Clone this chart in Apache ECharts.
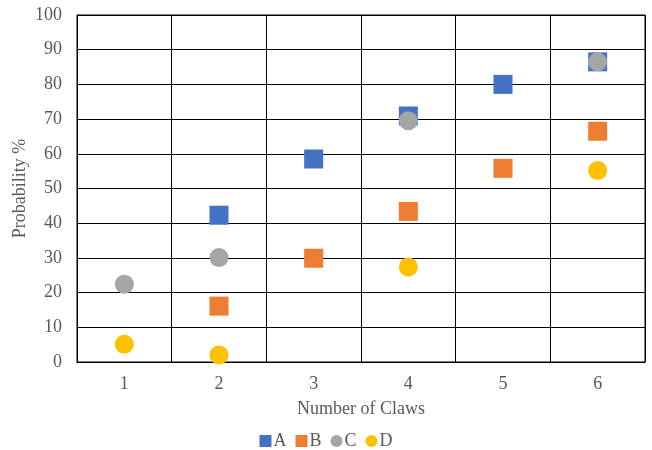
<!DOCTYPE html>
<html>
<head>
<meta charset="utf-8">
<script src="https://cdn.jsdelivr.net/npm/echarts@6/dist/echarts.min.js"></script>
<style>
  html, body { margin: 0; padding: 0; background: #fff; }
  #chart { width: 652px; height: 450px; }
</style>
</head>
<body>
<div id="chart"></div>
<script>
// Number of claws on the horizontal axis
const claws = ['1', '2', '3', '4', '5', '6'];

// Probability (%) per series; null where a series has no point
const seriesA = [null, 42.3, 58.5, 70.9, 80.0, 86.5];
const seriesB = [null, 16.1, 29.9, 43.4, 55.8, 66.5];
const seriesC = [22.4, 30.1, null, 69.5, null, 86.5];
const seriesD = [5.1, 2.0, null, 27.4, null, 55.2];

const yTicks = [0, 10, 20, 30, 40, 50, 60, 70, 80, 90, 100];

const font = 'Liberation Serif, Times New Roman, serif';
const textColor = '#595959';

const chart = echarts.init(document.getElementById('chart'));

function scatter(name, data, symbol, color) {
  return {
    name: name,
    type: 'scatter',
    data: data,
    symbol: symbol,
    symbolSize: 19,
    itemStyle: { color: color, opacity: 1 },
    emphasis: { disabled: true }
  };
}

chart.setOption({
  animation: false,
  grid: {
    left: 77, right: 7, top: 15, bottom: 88,
    show: true, borderColor: '#000', borderWidth: 1
  },
  xAxis: {
    type: 'category',
    data: claws,
    boundaryGap: true,
    name: 'Number of Claws',
    nameLocation: 'middle',
    nameGap: 38,
    nameMoveOverlap: false,
    nameTextStyle: { fontFamily: font, fontSize: 18, color: textColor },
    axisLine: { lineStyle: { color: '#000', width: 1 } },
    axisTick: { show: false },
    axisLabel: { fontFamily: font, fontSize: 18, color: textColor, margin: 13 },
    splitLine: { show: true, lineStyle: { color: '#000', width: 1 } }
  },
  yAxis: {
    type: 'value',
    min: yTicks[0],
    max: yTicks[yTicks.length - 1],
    interval: 10,
    name: 'Probability %',
    nameLocation: 'middle',
    nameGap: 48,
    nameMoveOverlap: false,
    nameTextStyle: { fontFamily: font, fontSize: 18, color: textColor },
    axisLine: { show: true, lineStyle: { color: '#000', width: 1 } },
    axisTick: { show: false },
    axisLabel: { fontFamily: font, fontSize: 18, color: textColor, margin: 15 },
    splitLine: { show: true, lineStyle: { color: '#000', width: 1 } }
  },
  legend: {
    top: 432,
    left: 'center',
    padding: 0,
    itemWidth: 12,
    itemHeight: 12,
    itemGap: 9,
    textStyle: { fontFamily: font, fontSize: 18, color: textColor, padding: [0, 0, 0, -3] },
    data: [
      { name: 'A', icon: 'rect' },
      { name: 'B', icon: 'rect' },
      { name: 'C', icon: 'circle' },
      { name: 'D', icon: 'circle' }
    ]
  },
  series: [
    scatter('A', seriesA, 'rect', '#4472C4'),
    scatter('B', seriesB, 'rect', '#ED7D31'),
    scatter('C', seriesC, 'circle', '#A5A5A5'),
    scatter('D', seriesD, 'circle', '#FFC000')
  ]
});
</script>
</body>
</html>
